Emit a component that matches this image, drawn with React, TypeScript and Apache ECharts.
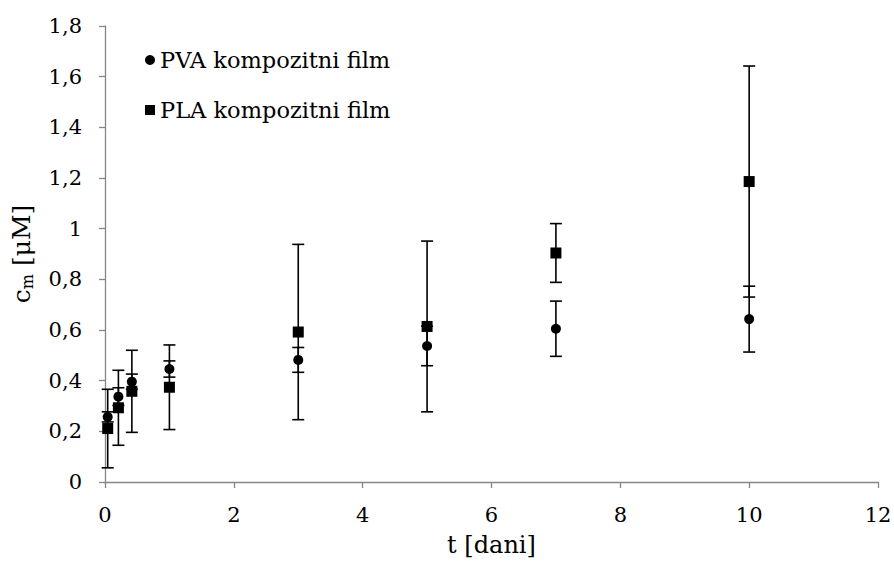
import React, { useEffect, useRef } from "react";
import * as echarts from "echarts";

const tDays = [0.042, 0.208, 0.417, 1, 3, 5, 7, 10];
const pvaMean = [0.257, 0.337, 0.396, 0.446, 0.482, 0.537, 0.605, 0.643];
const pvaErr = [0.02, 0.035, 0.03, 0.032, 0.049, 0.078, 0.109, 0.13];
const plaMean = [0.211, 0.293, 0.358, 0.374, 0.592, 0.614, 0.904, 1.186];
const plaErr = [0.155, 0.148, 0.162, 0.167, 0.346, 0.337, 0.116, 0.456];
const seriesNames = ["PVA kompozitni film", "PLA kompozitni film"];

const FONT = "DejaVu Serif";

function errRender(params: any, api: any) {
  const x = api.value(0);
  const y = api.value(1);
  const e = api.value(2);
  const top = api.coord([x, y + e]);
  const bot = api.coord([x, y - e]);
  const cap = 6;
  const style = { stroke: "#000", lineWidth: 1.6 };
  return {
    type: "group",
    children: [
      { type: "line", shape: { x1: top[0], y1: top[1], x2: bot[0], y2: bot[1] }, style },
      { type: "line", shape: { x1: top[0] - cap, y1: top[1], x2: top[0] + cap, y2: top[1] }, style },
      { type: "line", shape: { x1: bot[0] - cap, y1: bot[1], x2: bot[0] + cap, y2: bot[1] }, style },
    ],
  };
}

export default function App() {
  const ref = useRef<HTMLDivElement>(null);
  useEffect(() => {
    if (!ref.current) return;
    const chart = echarts.init(ref.current, null, { renderer: "svg" });
    const axisLine = { show: true, lineStyle: { color: "#868686", width: 1.3 } };
    chart.setOption({
      animation: false,
      textStyle: { fontFamily: FONT },
      grid: { left: 105, right: 16, top: 26, bottom: 83, containLabel: false, outerBoundsMode: "none" },
      legend: {
        orient: "vertical",
        left: 140,
        top: 42,
        itemWidth: 10,
        itemHeight: 10,
        itemGap: 24,
        data: [
          { name: seriesNames[0], icon: "circle", itemStyle: { color: "#000", opacity: 1 } },
          { name: seriesNames[1], icon: "rect", itemStyle: { color: "#000", opacity: 1 } },
        ],
        textStyle: { fontFamily: FONT, fontSize: 22.5, color: "#000", lineHeight: 26 },
      },
      xAxis: {
        type: "value",
        min: 0,
        max: 12,
        interval: 2,
        axisLine,
        axisTick: { show: true, inside: false, length: 6, lineStyle: { color: "#868686", width: 1.3 } },
        splitLine: { show: false },
        axisLabel: { fontFamily: FONT, fontSize: 21, color: "#000", margin: 22 },
        name: "t [dani]",
        nameLocation: "middle",
        nameGap: 51,
        nameTextStyle: { fontFamily: FONT, fontSize: 24, color: "#000" },
      },
      yAxis: {
        type: "value",
        min: 0,
        max: 1.8,
        interval: 0.2,
        axisLine,
        axisTick: { show: true, inside: false, length: 6, lineStyle: { color: "#868686", width: 1.3 } },
        splitLine: { show: false },
        axisLabel: {
          fontFamily: FONT,
          fontSize: 21,
          color: "#000",
          margin: 23,
          formatter: (v: number) => String(Math.round(v * 10) / 10).replace(".", ","),
        },
        name: "{a|c}{s|m}{a| [μM]}",
        nameLocation: "middle",
        nameRotate: 90,
        nameGap: 69,
        nameTextStyle: {
          color: "#000",
          fontFamily: FONT,
          rich: {
            a: { fontFamily: FONT, fontSize: 25, color: "#000", lineHeight: 30 },
            s: { fontFamily: FONT, fontSize: 16, color: "#000", padding: [12, 0, 0, 0] },
          },
        },
      },
      series: [
        {
          name: "pvaErr",
          type: "custom",
          renderItem: errRender,
          encode: { x: 0, y: 1 },
          data: tDays.map((t, i) => [t, pvaMean[i], pvaErr[i]]),
          z: 1,
        },
        {
          name: seriesNames[0],
          type: "scatter",
          symbol: "circle",
          symbolSize: 10,
          itemStyle: { color: "#000", opacity: 1 },
          data: tDays.map((t, i) => [t, pvaMean[i]]),
          z: 2,
        },
        {
          name: "plaErr",
          type: "custom",
          renderItem: errRender,
          encode: { x: 0, y: 1 },
          data: tDays.map((t, i) => [t, plaMean[i], plaErr[i]]),
          z: 3,
        },
        {
          name: seriesNames[1],
          type: "scatter",
          symbol: "rect",
          symbolSize: 11,
          itemStyle: { color: "#000", opacity: 1 },
          data: tDays.map((t, i) => [t, plaMean[i]]),
          z: 4,
        },
      ],
    });
    return () => chart.dispose();
  }, []);
  return (
    <div
      ref={ref}
      style={{ position: "absolute", left: 0, top: 0, width: 894, height: 565, background: "#fff" }}
    />
  );
}
